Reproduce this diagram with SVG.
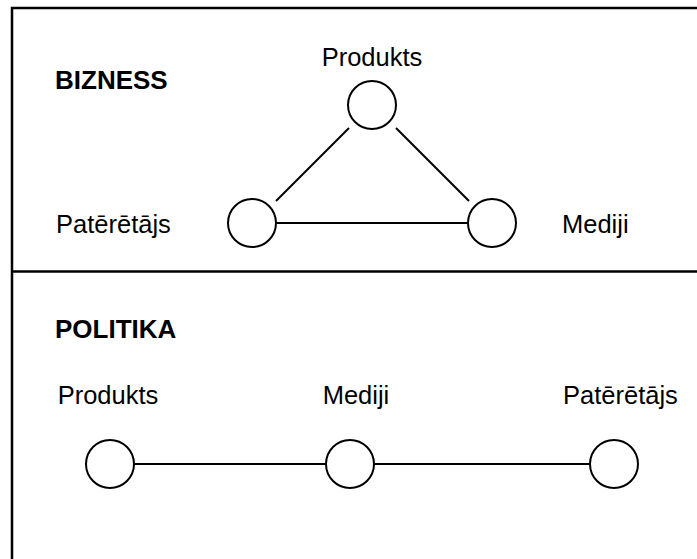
<svg xmlns="http://www.w3.org/2000/svg" width="697" height="559" viewBox="0 0 697 559">
<style>
.lbl{font-family:"Liberation Sans",Arial,sans-serif;font-size:25.5px;fill:#000}
.ttl{font-family:"Liberation Sans",Arial,sans-serif;font-size:26px;font-weight:bold;fill:#000}
.nd{fill:#fff;stroke:#000;stroke-width:2}
.cn{stroke:#000;stroke-width:2;fill:none}
.fr{stroke:#000;stroke-width:2.5;fill:none}
</style>
<rect width="697" height="559" fill="#fff"/>
<g id="frame">
<path class="fr" d="M12,600 V8 H720"/>
<path class="fr" d="M12,271.5 H720"/>
</g>
<g id="titles">
<text class="ttl" x="55" y="89">BIZNESS</text>
<text class="ttl" x="55" y="338">POLITIKA</text>
</g>
<g id="connectors">
<line class="cn" x1="276" y1="201" x2="349" y2="128"/>
<line class="cn" x1="396" y1="128" x2="469" y2="201"/>
<line class="cn" x1="276" y1="223" x2="468" y2="223"/>
<line class="cn" x1="134" y1="464" x2="326" y2="464"/>
<line class="cn" x1="374" y1="464" x2="590" y2="464"/>
</g>
<g id="b-produkts">
<circle class="nd" cx="372" cy="105" r="24"/>
<text class="lbl" x="372" y="66" text-anchor="middle">Produkts</text>
</g>
<g id="b-pateretajs">
<circle class="nd" cx="252" cy="223" r="24"/>
<text class="lbl" x="56" y="233">Patērētājs</text>
</g>
<g id="b-mediji">
<circle class="nd" cx="492" cy="223" r="24"/>
<text class="lbl" x="562" y="233">Mediji</text>
</g>
<g id="p-produkts">
<circle class="nd" cx="110" cy="464" r="24"/>
<text class="lbl" x="108" y="404" text-anchor="middle">Produkts</text>
</g>
<g id="p-mediji">
<circle class="nd" cx="350" cy="464" r="24"/>
<text class="lbl" x="356" y="404" text-anchor="middle">Mediji</text>
</g>
<g id="p-pateretajs">
<circle class="nd" cx="614" cy="464" r="24"/>
<text class="lbl" x="563" y="404">Patērētājs</text>
</g>
</svg>
